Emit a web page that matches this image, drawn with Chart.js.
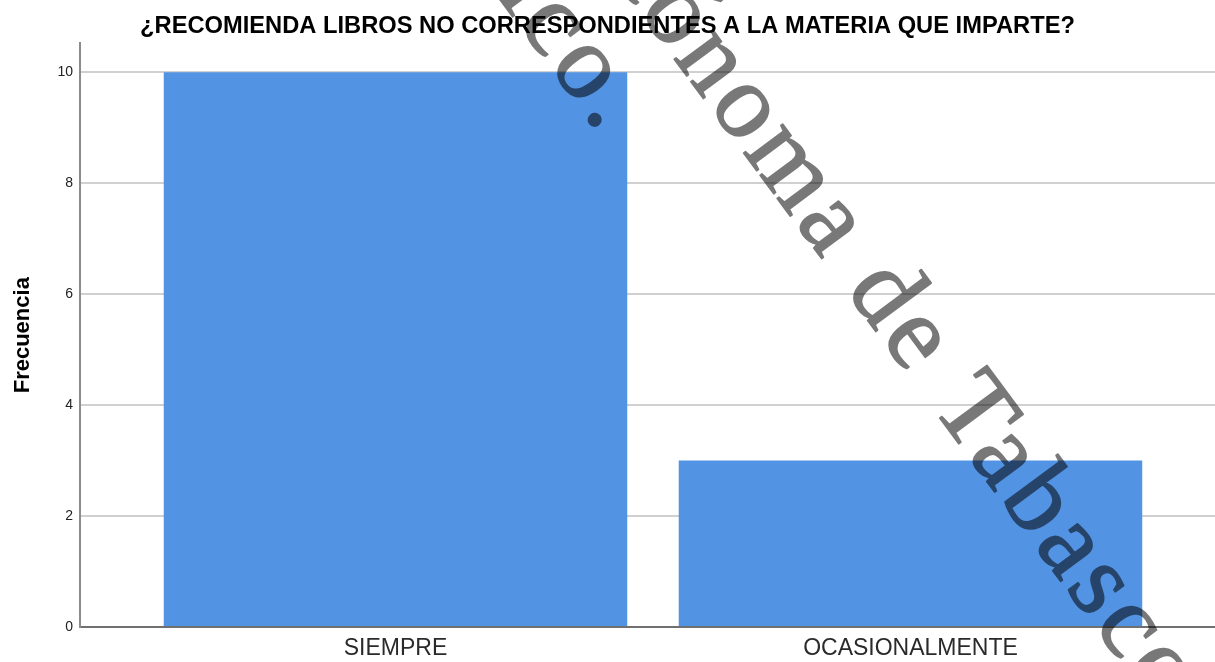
<!DOCTYPE html>
<html lang="es">
<head>
<meta charset="utf-8">
<title>¿Recomienda libros no correspondientes a la materia que imparte?</title>
<script src="https://cdn.jsdelivr.net/npm/chart.js@4.4.1/dist/chart.umd.min.js"></script>
<style>
  html, body { margin: 0; padding: 0; background: #fff; overflow: hidden; }
  .chart-box { position: relative; width: 1215px; height: 662px; }
</style>
</head>
<body>
<div class="chart-box">
  <canvas id="myChart"></canvas>
</div>
<script>
// data
const categories = ["SIEMPRE", "OCASIONALMENTE"];
const frecuencias = [10, 3];
const yTicks = [0, 2, 4, 6, 8, 10];

const barColor = "#5393e3";
const fontFamily = '"Liberation Sans", Arial, sans-serif';

// draws one rotated line of the watermark; left part starts at the anchor, right part ends there
function drawWatermarkLine(wctx, x, y, before, after, angle) {
  wctx.save();
  wctx.translate(x, y);
  wctx.rotate(angle);
  wctx.textAlign = "left";
  wctx.fillText(after, 0, 0);
  wctx.strokeText(after, 0, 0);
  wctx.textAlign = "right";
  wctx.fillText(before, 0, 0);
  wctx.strokeText(before, 0, 0);
  wctx.restore();
}

// semi-transparent watermark that sits over the whole picture
const watermark = {
  id: "watermark",
  afterDraw(chart) {
    const w = chart.width;
    const h = chart.height;
    const off = document.createElement("canvas");
    off.width = w;
    off.height = h;
    const wctx = off.getContext("2d");
    const angle = (53.5 * Math.PI) / 180;
    wctx.fillStyle = "#000";
    wctx.strokeStyle = "#000";
    wctx.lineWidth = 1.6;
    wctx.lineJoin = "round";
    wctx.font = '106px "Liberation Serif", "Times New Roman", serif';
    wctx.letterSpacing = "5.5px";
    wctx.textBaseline = "alphabetic";

    // first line, only its end shows (anchored at the full stop)
    drawWatermarkLine(wctx, 583, 112, "México", ".", angle);
    // second line (anchored at the T of Tabasco)
    drawWatermarkLine(wctx, 930, 405, "Universidad Juárez Autónoma de ", "Tabasco", angle);

    const ctx = chart.ctx;
    ctx.save();
    ctx.globalAlpha = 0.53;
    ctx.drawImage(off, 0, 0, w, h);
    ctx.restore();
  },
};

const ctx = document.getElementById("myChart").getContext("2d");

new Chart(ctx, {
  type: "bar",
  data: {
    datasets: [
      {
        label: "Frecuencia",
        data: categories.map((c, i) => ({ x: i, y: frecuencias[i] })),
        backgroundColor: barColor,
        borderWidth: 0,
        barPercentage: 0.9,
        categoryPercentage: 1,
      },
    ],
  },
  options: {
    responsive: true,
    maintainAspectRatio: false,
    animation: false,
    layout: { padding: { left: 0, right: 0, top: 0, bottom: 0 } },
    plugins: {
      legend: { display: false },
      tooltip: { enabled: false },
      title: {
        display: true,
        text: "¿RECOMIENDA LIBROS NO CORRESPONDIENTES A LA MATERIA QUE IMPARTE?",
        color: "#000",
        font: { family: fontFamily, size: 23.7, weight: "bold" },
        padding: { top: 12, bottom: 3 },
      },
    },
    scales: {
      x: {
        type: "linear",
        offset: false,
        min: -0.6126,
        max: 1.5913,
        afterBuildTicks: (scale) => {
          scale.ticks = categories.map((c, i) => ({ value: i }));
        },
        afterFit: (scale) => {
          scale.height = 35;
        },
        ticks: {
          callback: (value) => categories[value],
          color: "#2a2a2a",
          padding: 8,
          maxRotation: 0,
          autoSkip: false,
          font: { family: fontFamily, size: 23 },
        },
        grid: { display: false, drawTicks: false },
        border: { display: true, color: "#707070", width: 2 },
      },
      y: {
        min: 0,
        max: 10.52,
        afterBuildTicks: (scale) => {
          scale.ticks = yTicks.map((v) => ({ value: v }));
        },
        afterFit: (scale) => {
          scale.width = 80;
        },
        ticks: {
          color: "#222",
          padding: 7,
          font: { family: fontFamily, size: 14 },
        },
        grid: { color: "#d0d0d0", lineWidth: 2, drawTicks: false },
        border: { display: true, color: "#8c8c8c", width: 2 },
        title: {
          display: true,
          text: "Frecuencia",
          color: "#000",
          font: { family: fontFamily, size: 22, weight: "bold" },
          padding: { top: 10, bottom: 0 },
        },
      },
    },
  },
  plugins: [watermark],
});
</script>
</body>
</html>
